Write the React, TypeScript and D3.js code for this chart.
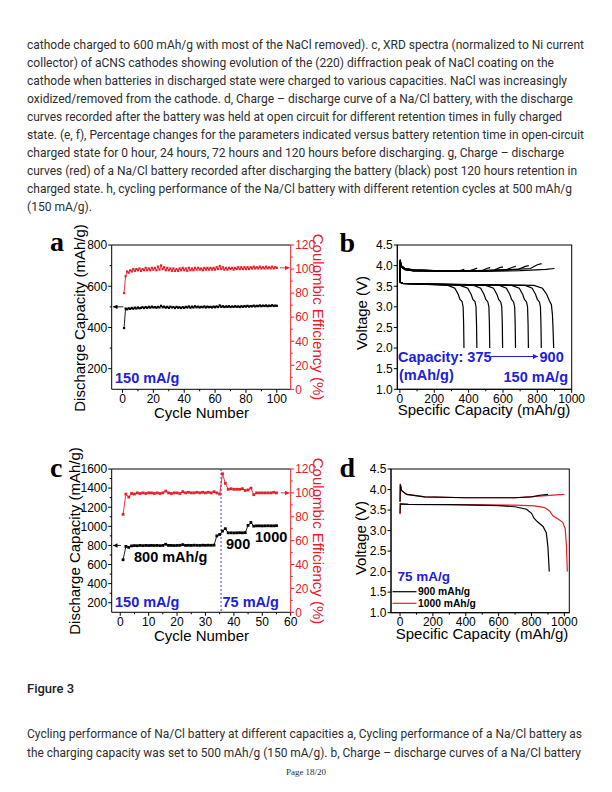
import React from "react";
import * as d3 from "d3";

const RED = "#e5202a";
const BLUE = "#2020d8";
const INK = "#000";
const PARA = "#2e2e2e";
const SANS = "'Liberation Sans', Arial, sans-serif";
const SERIF = "'Liberation Serif', 'Times New Roman', serif";
const BODY = "Roboto, 'Noto Sans', sans-serif";

// ---------------- page text ----------------
const topLines = [
  "cathode charged to 600 mAh/g with most of the NaCl removed). c, XRD spectra (normalized to Ni current",
  "collector) of aCNS cathodes showing evolution of the (220) diffraction peak of NaCl coating on the",
  "cathode when batteries in discharged state were charged to various capacities. NaCl was increasingly",
  "oxidized/removed from the cathode. d, Charge \u2013 discharge curve of a Na/Cl battery, with the discharge",
  "curves recorded after the battery was held at open circuit for different retention times in fully charged",
  "state. (e, f), Percentage changes for the parameters indicated versus battery retention time in open-circuit",
  "charged state for 0 hour, 24 hours, 72 hours and 120 hours before discharging. g, Charge \u2013 discharge",
  "curves (red) of a Na/Cl battery recorded after discharging the battery (black) post 120 hours retention in",
  "charged state. h, cycling performance of the Na/Cl battery with different retention cycles at 500 mAh/g",
  "(150 mA/g).",
];
const topLineWidths = [557, 527, 540, 546, 535, 557, 537, 550, 545, 65];
const figureTitle = "Figure 3";
const bottomLines = [
  "Cycling performance of Na/Cl battery at different capacities a, Cycling performance of a Na/Cl battery as",
  "the charging capacity was set to 500 mAh/g (150 mA/g). b, Charge \u2013 discharge curves of a Na/Cl battery",
];
const bottomLineWidths = [555, 554];
const pageLabel = "Page 18/20";

// ---------------- panel a ----------------
const capA = [
  397, 492, 488, 493, 490, 495, 491, 496, 492, 497, 493, 495, 498, 494, 499, 495, 500, 496, 501, 497,
  499, 496, 500, 497, 505, 498, 501, 496, 500, 495, 501, 497, 499, 494, 500, 496, 498, 494, 499, 495,
  500, 497, 502, 496, 501, 497, 503, 498, 501, 497, 500, 498, 502, 497, 501, 498, 500, 497, 501, 498,
  502, 499, 507, 500, 503, 499, 502, 500, 503, 499, 502, 500, 503, 500, 502, 499, 503, 500, 504, 501,
  505, 501, 504, 502, 506, 502, 505, 503, 507, 503, 506, 504, 507, 503, 506, 504, 508, 504, 506, 505,
];
const ceA = [
  80, 94, 98, 97, 99, 98, 100, 98.5, 100, 99, 100.5, 98.5, 100, 99, 101, 99, 100.5, 99, 101, 99.5,
  101, 99, 102, 99.5, 103, 100, 101.5, 99, 101, 99, 100.5, 98.5, 100.5, 98.5, 100, 98.5, 100.5, 99, 101, 99,
  100.5, 98.5, 101, 99, 100.5, 99, 101, 99.5, 101, 99.5, 100.5, 99, 101, 99.5, 101, 99.5, 101, 99.5, 101, 99.5,
  101.5, 100, 102.5, 100, 101.5, 99.5, 101, 99.5, 101, 100, 101, 99.5, 101, 100, 101.5, 100, 101.5, 100, 101.5, 100,
  101.5, 100, 101.5, 100.5, 102, 100.5, 101.5, 100.5, 102, 100.5, 101.5, 100.5, 102, 100.5, 101.5, 100.5, 102, 100.5, 101.5, 101,
];
const cycleTicksA = [0, 20, 40, 60, 80, 100];
const capTicksA = [200, 400, 600, 800];
const ceTicks = [0, 20, 40, 60, 80, 100, 120];

// ---------------- panel b ----------------
const bCapacities = [375, 450, 525, 600, 675, 750, 825, 900];
const bCharge: [number, number][][] = [
  [[0, 3.62], [1.5, 4.15], [8, 4.0], [30, 3.93], [80, 3.9], [200, 3.88], [330, 3.87], [360, 3.89], [375, 3.91]],
  [[0, 3.63], [1.5, 4.14], [8, 4.0], [30, 3.93], [80, 3.9], [200, 3.88], [400, 3.87], [430, 3.91], [450, 3.94]],
  [[0, 3.64], [1.5, 4.13], [8, 3.99], [30, 3.92], [80, 3.89], [250, 3.87], [480, 3.88], [505, 3.93], [525, 3.95]],
  [[0, 3.65], [1.5, 4.12], [8, 3.99], [30, 3.92], [80, 3.89], [300, 3.86], [550, 3.89], [580, 3.95], [600, 3.97]],
  [[0, 3.66], [1.5, 4.11], [8, 3.98], [30, 3.91], [80, 3.88], [350, 3.86], [620, 3.9], [655, 3.96], [675, 3.98]],
  [[0, 3.67], [1.5, 4.1], [8, 3.98], [30, 3.91], [80, 3.88], [400, 3.86], [690, 3.91], [730, 3.98], [750, 4.0]],
  [[0, 3.68], [1.5, 4.09], [8, 3.97], [30, 3.9], [80, 3.87], [450, 3.86], [760, 3.93], [800, 4.02], [825, 4.05]],
  [[0, 3.69], [1.5, 4.08], [8, 3.96], [30, 3.9], [80, 3.87], [500, 3.86], [700, 3.88], [850, 3.91], [900, 3.93]],
];
const bDischarge: [number, number][][] = [
  [[0, 3.68], [1.5, 3.6], [15, 3.57], [60, 3.56], [280, 3.52], [320, 3.45], [340, 3.3], [350, 3.18], [362, 3.13], [368, 3.0], [371, 2.6], [373, 2.0]],
  [[0, 3.68], [1.5, 3.6], [15, 3.57], [60, 3.56], [350, 3.52], [395, 3.45], [415, 3.3], [425, 3.18], [437, 3.13], [443, 3.0], [446, 2.6], [448, 2.0]],
  [[0, 3.68], [1.5, 3.6], [15, 3.57], [60, 3.56], [430, 3.52], [470, 3.45], [490, 3.3], [500, 3.18], [512, 3.12], [518, 3.0], [521, 2.6], [523, 2.0]],
  [[0, 3.68], [1.5, 3.6], [15, 3.57], [60, 3.56], [500, 3.52], [545, 3.45], [565, 3.3], [575, 3.18], [587, 3.12], [593, 3.0], [596, 2.6], [598, 2.0]],
  [[0, 3.68], [1.5, 3.6], [15, 3.57], [60, 3.56], [580, 3.52], [620, 3.45], [640, 3.3], [650, 3.18], [662, 3.12], [668, 3.0], [671, 2.6], [673, 2.0]],
  [[0, 3.68], [1.5, 3.6], [15, 3.57], [60, 3.56], [650, 3.52], [695, 3.45], [715, 3.3], [725, 3.18], [737, 3.12], [743, 3.0], [746, 2.6], [748, 2.0]],
  [[0, 3.68], [1.5, 3.6], [15, 3.57], [60, 3.56], [730, 3.52], [770, 3.45], [790, 3.3], [800, 3.18], [812, 3.12], [818, 3.0], [821, 2.6], [823, 2.0]],
  [[0, 3.68], [1.5, 3.6], [15, 3.57], [60, 3.56], [780, 3.52], [830, 3.45], [855, 3.3], [870, 3.15], [882, 3.05], [888, 2.8], [892, 2.4], [895, 2.0]],
];
const voltTicks = [1.0, 1.5, 2.0, 2.5, 3.0, 3.5, 4.0, 4.5];
const specTicks = [0, 200, 400, 600, 800, 1000];

// ---------------- panel c ----------------
const capC = [
  650, 790, 780, 795, 798, 797, 800, 798, 800, 799, 800, 799, 800, 798, 800, 812, 800, 800, 799, 800,
  801, 808, 800, 801, 800, 802, 801, 800, 802, 801, 802, 801, 803, 900, 915, 950, 975, 932, 932, 931,
  932, 933, 932, 934, 1010, 1040, 1002, 1005, 1005, 1004, 1005, 1006, 1005, 1005, 1007,
];
const ceC = [
  82, 99, 96.5, 99.5, 99, 100, 99.5, 100, 99.5, 100, 100, 99.5, 100, 99.5, 100, 101.5, 100, 99.5, 100, 100,
  99.5, 101, 100, 100.5, 100, 100, 100.5, 100, 100.5, 100, 100.5, 100, 101, 100, 99, 116, 108, 103, 103.5, 103,
  103, 103, 103.5, 102, 102.5, 104, 98.5, 100, 100, 100, 100, 100, 100, 100.5, 100,
];
const cycleTicksC = [0, 10, 20, 30, 40, 50, 60];
const capTicksC = [200, 400, 600, 800, 1000, 1200, 1400, 1600];
const rateSwitchCycle = 35.5;

// ---------------- panel d ----------------
const dSeries = ["900 mAh/g", "1000 mAh/g"];
const dCharge: [number, number][][] = [
  [[0, 3.7], [1.5, 4.12], [10, 3.97], [40, 3.88], [150, 3.82], [400, 3.8], [700, 3.8], [800, 3.82], [850, 3.86], [900, 3.88]],
  [[0, 3.7], [1.5, 4.14], [10, 3.98], [40, 3.88], [150, 3.82], [400, 3.8], [700, 3.8], [850, 3.84], [950, 3.87], [1000, 3.88]],
];
const dDischarge: [number, number][][] = [
  [[0, 3.42], [1.5, 3.65], [50, 3.64], [300, 3.63], [600, 3.61], [700, 3.58], [770, 3.52], [800, 3.42], [815, 3.3], [835, 3.22], [870, 3.1], [890, 2.95], [900, 2.6], [908, 2.0]],
  [[0, 3.4], [1.5, 3.65], [50, 3.64], [400, 3.63], [700, 3.62], [820, 3.6], [880, 3.56], [910, 3.48], [930, 3.36], [960, 3.29], [990, 3.2], [1005, 3.05], [1013, 2.6], [1018, 2.0]],
];
const dColors = [INK, RED];

type Lin = d3.ScaleLinear<number, number>;

function VAxis({ s, x, ticks, minor, side, color = INK, fmt = (v: number) => String(v) }: {
  s: Lin; x: number; ticks: number[]; minor: number[]; side: "left" | "right"; color?: string; fmt?: (v: number) => string;
}) {
  const d = side === "left" ? -1 : 1;
  const [y0, y1] = s.range();
  return (
    <g>
      <line x1={x} x2={x} y1={y0} y2={y1} stroke={color} strokeWidth={1} />
      {ticks.map((t) => (
        <line key={"t" + t} x1={x} x2={x + d * 3.5} y1={s(t)} y2={s(t)} stroke={color} strokeWidth={1} />
      ))}
      {minor.map((t) => (
        <line key={"m" + t} x1={x} x2={x + d * 2} y1={s(t)} y2={s(t)} stroke={color} strokeWidth={1} />
      ))}
      {ticks.map((t) => (
        <text key={"l" + t} x={x + d * 4.5} y={s(t) + 4.3} textAnchor={side === "left" ? "end" : "start"}
          fill={color} fontSize={12} fontFamily={SANS}>{fmt(t)}</text>
      ))}
    </g>
  );
}

function HAxis({ s, y, ticks, minor }: { s: Lin; y: number; ticks: number[]; minor: number[] }) {
  const [x0, x1] = s.range();
  return (
    <g>
      <line x1={x0} x2={x1} y1={y} y2={y} stroke={INK} strokeWidth={1} />
      {ticks.map((t) => (
        <line key={"t" + t} x1={s(t)} x2={s(t)} y1={y} y2={y + 3.5} stroke={INK} strokeWidth={1} />
      ))}
      {minor.map((t) => (
        <line key={"m" + t} x1={s(t)} x2={s(t)} y1={y} y2={y + 2} stroke={INK} strokeWidth={1} />
      ))}
      {ticks.map((t) => (
        <text key={"l" + t} x={s(t)} y={y + 13.5} textAnchor="middle" fill={INK} fontSize={12} fontFamily={SANS}>{t}</text>
      ))}
    </g>
  );
}

function Squares({ xs, ys, x, y, color, size }: { xs: number[]; ys: number[]; x: Lin; y: Lin; color: string; size: number }) {
  const line = d3.line<number>().x((_, i) => x(xs[i])).y((v) => y(v));
  return (
    <g>
      <path d={line(ys) || ""} fill="none" stroke={color} strokeWidth={0.9} />
      {ys.map((v, i) => (
        <rect key={i} x={x(xs[i]) - size / 2} y={y(v) - size / 2} width={size} height={size} fill={color} />
      ))}
    </g>
  );
}

function Title({ x, y, text, rot = 0, color = INK, size = 15 }: { x: number; y: number; text: string; rot?: number; color?: string; size?: number }) {
  return (
    <text transform={`translate(${x},${y}) rotate(${rot})`} textAnchor="middle" fill={color} fontSize={size} fontFamily={SANS}>{text}</text>
  );
}

function PanelLetter({ x, y, t }: { x: number; y: number; t: string }) {
  return <text x={x} y={y} fontFamily={SERIF} fontWeight="bold" fontSize={28} fill={INK}>{t}</text>;
}

const minorsOf = (ticks: number[]) => ticks.slice(1).map((t, i) => (t + ticks[i]) / 2);

export default function App() {
  // scales
  const ax = d3.scaleLinear().domain([-7, 109]).range([111.7, 290.7]);
  const ayL = d3.scaleLinear().domain([100, 800]).range([389.3, 245]);
  const ayR = d3.scaleLinear().domain([0, 120]).range([389.3, 245]);
  const bx = d3.scaleLinear().domain([-15, 1000]).range([397.3, 571.7]);
  const by = d3.scaleLinear().domain([1, 4.5]).range([389.3, 245]);
  const cx = d3.scaleLinear().domain([-3, 60]).range([111.7, 290.7]);
  const cyL = d3.scaleLinear().domain([100, 1600]).range([612.3, 469]);
  const cyR = d3.scaleLinear().domain([0, 120]).range([612.3, 469]);
  const dx = d3.scaleLinear().domain([-55, 1030]).range([391, 569.3]);
  const dy = d3.scaleLinear().domain([1, 4.5]).range([612.7, 469]);

  const cyclesA = d3.range(1, capA.length + 1);
  const cyclesC = d3.range(1, capC.length + 1);
  const lineB = d3.line<[number, number]>().x((p) => bx(p[0])).y((p) => by(p[1]));
  const lineD = d3.line<[number, number]>().x((p) => dx(p[0])).y((p) => dy(p[1]));
  const fmt1 = (v: number) => v.toFixed(1);

  return (
    <div style={{ position: "absolute", left: 0, top: 0 }}>
      <svg width={612} height={792} style={{ display: "block", background: "#fff" }}>
        <defs>
          <marker id="arrK" viewBox="0 0 8 8" refX="8" refY="4" markerWidth="5" markerHeight="5" orient="auto-start-reverse">
            <path d="M0,0 L8,4 L0,8 z" fill={INK} />
          </marker>
          <marker id="arrR" viewBox="0 0 8 8" refX="8" refY="4" markerWidth="5" markerHeight="5" orient="auto-start-reverse">
            <path d="M0,0 L8,4 L0,8 z" fill={RED} />
          </marker>
          <marker id="arrB" viewBox="0 0 8 8" refX="8" refY="4" markerWidth="5" markerHeight="5" orient="auto-start-reverse">
            <path d="M0,0 L8,4 L0,8 z" fill={BLUE} />
          </marker>
        </defs>

        {/* page text */}
        <g fontFamily={BODY} fontSize={13} fill={PARA}>
          {topLines.map((t, i) => (
            <text key={i} x={27} y={48.5 + i * 18.1} textLength={topLineWidths[i]} lengthAdjust="spacingAndGlyphs">{t}</text>
          ))}
          <text x={27} y={692.5} fontWeight={500} fill="#222">{figureTitle}</text>
          {bottomLines.map((t, i) => (
            <text key={i} x={27} y={737.5 + i * 19} textLength={bottomLineWidths[i]} lengthAdjust="spacingAndGlyphs">{t}</text>
          ))}
        </g>
        <text x={306} y={775} textAnchor="middle" fontFamily={SERIF} fontSize={9} fill={PARA}>{pageLabel}</text>

        {/* ---------- panel a ---------- */}
        <PanelLetter x={50} y={250.5} t="a" />
        <line x1={111.7} x2={290.7} y1={245} y2={245} stroke={INK} />
        <HAxis s={ax} y={389.3} ticks={cycleTicksA} minor={minorsOf(cycleTicksA)} />
        <VAxis s={ayL} x={111.7} ticks={capTicksA} minor={[300, 500, 700]} side="left" />
        <VAxis s={ayR} x={290.7} ticks={ceTicks} minor={minorsOf(ceTicks)} side="right" color={RED} />
        <Squares xs={cyclesA} ys={ceA} x={ax} y={ayR} color={RED} size={2.2} />
        <Squares xs={cyclesA} ys={capA} x={ax} y={ayL} color={INK} size={2.2} />
        <line x1={ax(0.5)} x2={113} y1={ayL(500)} y2={ayL(500)} stroke={INK} strokeWidth={0.9} markerEnd="url(#arrK)" />
        <line x1={ax(102)} x2={289.5} y1={ayR(101)} y2={ayR(101)} stroke={RED} strokeWidth={0.9} markerEnd="url(#arrR)" />
        <text x={115} y={383} fill={BLUE} fontFamily={SANS} fontWeight="bold" fontSize={14.5}>150 mA/g</text>
        <Title x={84.5} y={318} rot={-90} text="Discharge Capacity (mAh/g)" />
        <Title x={312.5} y={317} rot={90} text="Coulombic Efficiency (%)" color={RED} />
        <Title x={201.5} y={418} text="Cycle Number" />

        {/* ---------- panel b ---------- */}
        <PanelLetter x={339.5} y={251.5} t="b" />
        <rect x={397.3} y={245} width={571.7 - 397.3} height={389.3 - 245} fill="none" stroke={INK} />
        <HAxis s={bx} y={389.3} ticks={specTicks} minor={minorsOf(specTicks)} />
        <VAxis s={by} x={397.3} ticks={voltTicks} minor={[]} side="left" fmt={fmt1} />
        {bCharge.map((c, i) => (
          <path key={"bc" + i} d={lineB(c) || ""} fill="none" stroke={INK} strokeWidth={1.2} />
        ))}
        {bDischarge.map((c, i) => (
          <path key={"bd" + i} d={lineB(c) || ""} fill="none" stroke={INK} strokeWidth={1.2} />
        ))}
        <text x={398} y={362} fill={BLUE} fontFamily={SANS} fontWeight="bold" fontSize={14.5}>Capacity: {bCapacities[0]}</text>
        <line x1={491} x2={538} y1={356.5} y2={356.5} stroke={BLUE} strokeWidth={1} markerEnd="url(#arrB)" />
        <text x={539.5} y={362} fill={BLUE} fontFamily={SANS} fontWeight="bold" fontSize={14.5}>{bCapacities[bCapacities.length - 1]}</text>
        <text x={399} y={380} fill={BLUE} fontFamily={SANS} fontWeight="bold" fontSize={14.5}>(mAh/g)</text>
        <text x={568} y={382} textAnchor="end" fill={BLUE} fontFamily={SANS} fontWeight="bold" fontSize={14.5}>150 mA/g</text>
        <Title x={366.5} y={313} rot={-90} text="Voltage (V)" />
        <Title x={484} y={414.5} text="Specific Capacity (mAh/g)" />

        {/* ---------- panel c ---------- */}
        <PanelLetter x={50} y={477} t="c" />
        <line x1={111.7} x2={290.7} y1={469} y2={469} stroke={INK} />
        <HAxis s={cx} y={612.3} ticks={cycleTicksC} minor={minorsOf(cycleTicksC)} />
        <VAxis s={cyL} x={111.7} ticks={capTicksC} minor={minorsOf(capTicksC)} side="left" />
        <VAxis s={cyR} x={290.7} ticks={ceTicks} minor={minorsOf(ceTicks)} side="right" color={RED} />
        <line x1={cx(rateSwitchCycle)} x2={cx(rateSwitchCycle)} y1={469} y2={612.3} stroke={BLUE} strokeWidth={0.9} strokeDasharray="2,2" />
        <Squares xs={cyclesC} ys={ceC} x={cx} y={cyR} color={RED} size={2.8} />
        <Squares xs={cyclesC} ys={capC} x={cx} y={cyL} color={INK} size={2.8} />
        <line x1={cx(0.2)} x2={113} y1={cyL(800)} y2={cyL(800)} stroke={INK} strokeWidth={0.9} markerEnd="url(#arrK)" />
        <line x1={cx(56.5)} x2={289.5} y1={cyR(100)} y2={cyR(100)} stroke={RED} strokeWidth={0.9} markerEnd="url(#arrR)" />
        <text x={134} y={561.5} fill={INK} fontFamily={SANS} fontWeight="bold" fontSize={14.5}>800 mAh/g</text>
        <text x={226} y={548.5} fill={INK} fontFamily={SANS} fontWeight="bold" fontSize={14.5}>900</text>
        <text x={255} y={541.5} fill={INK} fontFamily={SANS} fontWeight="bold" fontSize={14.5}>1000</text>
        <text x={115} y={606.5} fill={BLUE} fontFamily={SANS} fontWeight="bold" fontSize={14.5}>150 mA/g</text>
        <text x={222.5} y={606.5} fill={BLUE} fontFamily={SANS} fontWeight="bold" fontSize={14.5}>75 mA/g</text>
        <Title x={80} y={541} rot={-90} text="Discharge Capacity (mAh/g)" />
        <Title x={312.5} y={541} rot={90} text="Coulombic Efficiency (%)" color={RED} />
        <Title x={201.5} y={641} text="Cycle Number" />

        {/* ---------- panel d ---------- */}
        <PanelLetter x={339.5} y={477} t="d" />
        <rect x={391} y={469} width={569.3 - 391} height={612.7 - 469} fill="none" stroke={INK} />
        <HAxis s={dx} y={612.7} ticks={specTicks} minor={minorsOf(specTicks)} />
        <VAxis s={dy} x={391} ticks={voltTicks} minor={[]} side="left" fmt={fmt1} />
        {[1, 0].map((i) => (
          <g key={"d" + i}>
            <path d={lineD(dCharge[i]) || ""} fill="none" stroke={dColors[i]} strokeWidth={1.2} />
            <path d={lineD(dDischarge[i]) || ""} fill="none" stroke={dColors[i]} strokeWidth={1.2} />
          </g>
        ))}
        <text x={397.5} y={580.5} fill={BLUE} fontFamily={SANS} fontWeight="bold" fontSize={13.5}>75 mA/g</text>
        {dSeries.map((s, i) => (
          <g key={s}>
            <line x1={392.5} x2={416.5} y1={591.7 + i * 11.6} y2={591.7 + i * 11.6} stroke={dColors[i]} strokeWidth={1.2} />
            <text x={418} y={595.3 + i * 11.6} fill={INK} fontFamily={SANS} fontWeight="bold" fontSize={10.3}>{s}</text>
          </g>
        ))}
        <Title x={366} y={538} rot={-90} text="Voltage (V)" />
        <Title x={482} y={639} text="Specific Capacity (mAh/g)" />
      </svg>
    </div>
  );
}
